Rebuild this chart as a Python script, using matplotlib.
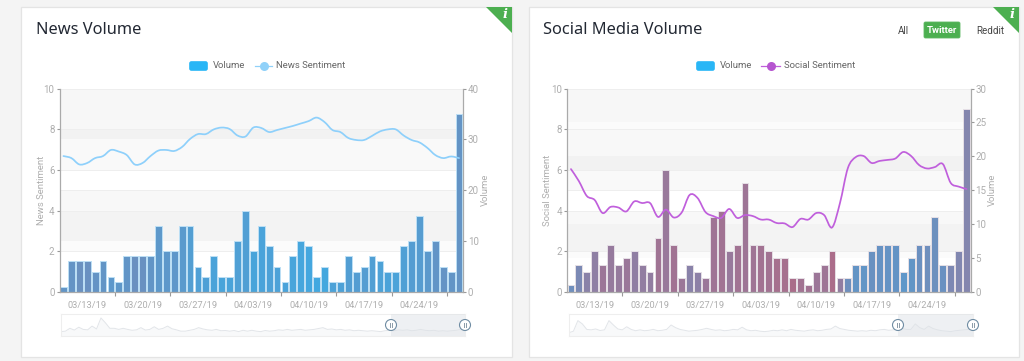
import numpy as np
import matplotlib
matplotlib.use("Agg")
import matplotlib.pyplot as plt
from matplotlib.colors import LinearSegmentedColormap, Normalize
from matplotlib.patches import Rectangle, FancyBboxPatch, Polygon, PathPatch, Circle
from matplotlib.path import Path

W, H = 1024, 361

date_labels = ["03/13/19", "03/20/19", "03/27/19", "04/03/19", "04/10/19", "04/17/19", "04/24/19"]

news_volume = [1, 6, 6, 6, 4, 6, 3, 2, 7, 7, 7, 7, 13, 8, 8, 13, 13, 5, 3, 7, 3, 3, 10, 16, 8, 13,
               9, 5, 2, 7, 10, 9, 3, 5, 2, 2, 7, 4, 5, 7, 6, 4, 4, 9, 10, 15, 8, 10, 5, 4, 35]
news_sentiment = [6.68, 6.58, 6.27, 6.34, 6.58, 6.68, 6.98, 6.9, 6.73, 6.27, 6.34, 6.68, 6.95, 6.98,
                  6.93, 7.13, 7.52, 7.76, 7.76, 7.99, 8.08, 8.01, 7.69, 7.64, 8.08, 8.06, 7.86, 7.96,
                  8.06, 8.16, 8.28, 8.40, 8.57, 8.35, 7.96, 7.86, 7.57, 7.47, 7.47, 7.67, 7.89, 7.99,
                  7.99, 7.69, 7.47, 7.35, 7.08, 6.73, 6.58, 6.66, 6.58]

social_volume = [1, 4, 3, 6, 4, 7, 4, 5, 6, 4, 3, 8, 18, 7, 2, 4, 3, 2, 11, 12, 6, 7, 16, 7, 7, 6,
                 5, 5, 2, 2, 1, 3, 4, 6, 2, 2, 4, 4, 6, 7, 7, 7, 3, 5, 7, 7, 11, 4, 4, 6, 27]
social_sentiment = [6.04, 5.45, 4.72, 4.52, 3.88, 4.18, 4.15, 3.96, 4.45, 4.37, 4.37, 3.69, 4.05, 3.66,
                    3.91, 4.77, 4.62, 3.93, 3.73, 3.64, 4.08, 3.64, 3.78, 3.73, 3.56, 3.56, 3.39, 3.37,
                    3.19, 3.59, 3.56, 3.88, 3.78, 3.17, 4.37, 6.09, 6.63, 6.68, 6.34, 6.44, 6.49, 6.56,
                    6.88, 6.68, 6.24, 6.07, 6.14, 6.29, 5.36, 5.18, 5.06]

# navigator lines, rough read
news_nav = [.2, .22, .35, .27, .4, .3, .28, .45, .32, .82, .6, .35, .35, .3, .35, .3, .26, .28, .38, .27,
            .3, .42, .3, .35, .45, .33, .28, .22, .22, .26, .3, .38, .32, .28, .26, .3, .24, .25, .22, .25,
            .2, .26, .22, .26, .22, .2, .25, .22, .24, .28, .26, .3, .26, .28, .3, .26, .28, .3, .34, .38,
            .3, .32, .28, .3, .26, .28, .24, .26, .24, .22, .24, .22, .2, .24, .26, .24, .28, .26, .28, .24,
            .26, .3, .26, .24, .26, .22, .24, .22, .24, .26, .3, .36]
social_nav = [.15, .22, .7, .55, .3, .28, .32, .25, .28, .7, .5, .32, .28, .42, .3, .24, .28, .24, .26, .3,
              .24, .26, .3, .5, .38, .3, .26, .22, .24, .26, .3, .35, .3, .26, .28, .24, .26, .3, .28, .4,
              .28, .24, .26, .22, .2, .22, .26, .24, .28, .24, .3, .26, .24, .22, .26, .28, .24, .26, .3, .32,
              .45, .34, .3, .26, .24, .22, .24, .22, .26, .24, .28, .3, .26, .28, .3, .35, .3, .3, .55, .38,
              .3, .45, .34, .28, .24, .22, .2, .24, .26, .28, .3, .35]

news_bands = [(0, 2, "#ffffff"), (2, 2.5, "#fbfbfb"), (2.5, 4, "#f3f3f3"), (4, 5, "#f8f8f8"), (5, 6, "#ffffff"),
              (6, 7.5, "#f9f9f9"), (7.5, 8, "#f2f2f2"), (8, 10, "#f7f7f7")]
social_bands = [(0, 1.67, "#ffffff"), (1.67, 2, "#fbfbfb"), (2, 3.33, "#f3f3f3"), (3.33, 4, "#f8f8f8"),
                (4, 5, "#ffffff"), (5, 6, "#f9f9f9"), (6, 6.67, "#f2f2f2"), (6.67, 8, "#f8f8f8"),
                (8, 8.33, "#fbfbfb"), (8.33, 10, "#f7f7f7")]

plt.rcParams["font.family"] = ["Roboto", "DejaVu Sans"]
GREY = "#aeaeae"
BAR_CMAP = LinearSegmentedColormap.from_list("sent", [(0, "#ae6b87"), (0.36, "#8585ad"), (0.64, "#6593c4"), (1, "#42a8e0")])
BAR_NORM = Normalize(3, 8.5)


def axes_px(fig, x0, y0, x1, y1):
    return fig.add_axes([x0 / W, 1 - y1 / H, (x1 - x0) / W, (y1 - y0) / H])


def smooth_path(xs, ys):
    # catmull-rom through the points, as bezier segments
    pts = np.column_stack([xs, ys])
    verts = [pts[0]]
    codes = [Path.MOVETO]
    for i in range(len(pts) - 1):
        p0 = pts[max(i - 1, 0)]
        p1 = pts[i]
        p2 = pts[i + 1]
        p3 = pts[min(i + 2, len(pts) - 1)]
        verts += [p1 + (p2 - p0) / 6, p2 - (p3 - p1) / 6, p2]
        codes += [Path.CURVE4] * 3
    return Path(verts, codes)


def draw_chart(fig, x0, x1, volume, sentiment, vol_max, vol_step, bands, line_color, edge):
    xs = np.arange(len(volume))
    y0, y1 = 88.5, 292

    ax_vol = axes_px(fig, x0, y0, x1, y1)
    ax = fig.add_axes(ax_vol.get_position(), sharex=ax_vol)
    ax_vol.set_zorder(1)
    ax.set_zorder(2)
    ax.patch.set_visible(False)

    for lo, hi, col in bands:
        ax_vol.axhspan(lo * vol_max / 10, hi * vol_max / 10, color=col, lw=0, zorder=0)
    for level in [2, 4, 5, 6, 8]:
        ax_vol.axhline(level * vol_max / 10, color="#eeeeee", lw=0.7, zorder=0.5)
    ax_vol.axhline(vol_max, color="#eeeeee", lw=0.7, zorder=0.5)

    colors = BAR_CMAP(BAR_NORM(np.array(sentiment)))
    ax_vol.bar(xs, volume, width=0.86, color=colors, edgecolor=edge, linewidth=0.7, zorder=2)
    ax.add_patch(PathPatch(smooth_path(xs, sentiment), fill=False, edgecolor=line_color, lw=1.25, capstyle="round"))

    ax_vol.set_xlim(-0.5, len(volume) - 0.5)
    ax_vol.set_ylim(0, vol_max)
    ax.set_ylim(0, 10)

    ax_vol.yaxis.tick_right()
    ax_vol.set_yticks(np.arange(0, vol_max + 1, vol_step))
    ax.set_yticks(np.arange(0, 11, 2))
    ax.xaxis.set_visible(False)
    ax.yaxis.tick_left()

    ax_vol.set_xticks(np.arange(6.5, 50, 7))
    ax_vol.set_xticklabels([])
    ax_vol.set_xticks(np.arange(3, 46, 7), minor=True)
    ax_vol.set_xticklabels(date_labels, minor=True)
    ax_vol.tick_params(axis="x", which="major", length=3, width=0.8, color="#999999")
    ax_vol.tick_params(axis="x", which="minor", length=0, pad=6.5, labelsize=6.7, labelcolor=GREY)
    for a in (ax, ax_vol):
        a.tick_params(axis="y", length=2.2, width=0.8, color="#999999", labelsize=7, labelcolor=GREY, pad=1.4)
        a.spines["top"].set_visible(False)
        for s in ["left", "right", "bottom"]:
            a.spines[s].set_color("#aaaaaa")
            a.spines[s].set_linewidth(0.9)
    ax.spines["bottom"].set_visible(False)
    ax.spines["right"].set_visible(False)
    ax_vol.spines["left"].set_visible(False)
    return ax_vol


def draw_navigator(fig, top, x0, x1, sel0, values):
    y0, y1 = 314, 336
    nav = axes_px(fig, x0, y0, x1, y1)
    nav.set_xlim(0, len(values) - 1)
    nav.set_ylim(0, 1)
    nav.set_xticks([])
    nav.set_yticks([])
    for s in nav.spines.values():
        s.set_color("#eeeeee")
        s.set_linewidth(0.8)
    nav_x = np.arange(len(values))
    nav.fill_between(nav_x, 0, values, color="#f8f9fa", lw=0)
    nav.plot(nav_x, values, color="#e2e5e9", lw=0.7)
    top.add_patch(Rectangle((sel0, y0), x1 - sel0, y1 - y0, color="#dfe3e8", alpha=0.5, lw=0, zorder=20))
    for cx in (sel0, x1):
        top.add_patch(Circle((cx, 325), 5.5, fc="white", ec="#6f8ca3", lw=0.8, zorder=21))
        top.plot([cx - 1.2, cx - 1.2], [322.8, 327.2], color="#8a9aa8", lw=0.7, zorder=22)
        top.plot([cx + 1.2, cx + 1.2], [322.8, 327.2], color="#8a9aa8", lw=0.7, zorder=22)


def draw_legend(top, rect_x):
    top.add_patch(FancyBboxPatch((rect_x + 1, 62), 17, 8, boxstyle="round,pad=0,rounding_size=1.5", fc="#29b6f6", ec="#29b6f6", lw=1.2))
    top.text(rect_x + 24, 65.5, "Volume", fontsize=6.8, color="#666666", va="center", ha="left")


fig = plt.figure(figsize=(W / 100, H / 100), dpi=100, facecolor="#f4f4f4")

# layers in pixel coordinates for cards and labels
bg = fig.add_axes([0, 0, 1, 1], zorder=0)
bg.set_xlim(0, W)
bg.set_ylim(H, 0)
bg.axis("off")

fg = fig.add_axes([0, 0, 1, 1], zorder=5)
fg.set_xlim(0, W)
fg.set_ylim(H, 0)
fg.axis("off")
fg.patch.set_visible(False)

for cx0, cx1 in [(21, 512), (529, 1019)]:
    bg.add_patch(Rectangle((cx0, 7), cx1 - cx0, 350, fc="white", ec="#e4e4e4", lw=0.9))
    fg.add_patch(Polygon([(cx1 - 26, 7), (cx1, 7), (cx1, 33)], closed=True, fc="#4caf50", ec="none"))
    fg.text(cx1 - 7, 14.5, "i", fontsize=9.5, color="white", family="DejaVu Serif", style="italic", weight="bold", ha="center", va="center")

fg.text(36, 29.5, "News Volume", fontsize=11.8, family="Noto Sans", color="#222833", va="center")
fg.text(543, 29.5, "Social Media Volume", fontsize=11.8, family="Noto Sans", color="#222833", va="center")

draw_chart(fig, 59.5, 463, news_volume, news_sentiment, 40, 10, news_bands, "#8ed0fb", "#bcdff5")
draw_chart(fig, 567, 970.5, social_volume, social_sentiment, 30, 5, social_bands, "#c05fdc", "#e6e0e6")

draw_navigator(fig, fg, 61, 465, 391, news_nav)
draw_navigator(fig, fg, 569, 973, 898, social_nav)

# legends
draw_legend(fg, 189)
fg.plot([255, 272], [65.5, 65.5], color="#90d1f9", lw=0.9)
fg.plot([263.5], [65.5], "o", color="#90d1f9", ms=6.5, mew=0)
fg.text(276, 65.5, "News Sentiment", fontsize=6.8, color="#666666", va="center")

draw_legend(fg, 696)
fg.plot([761, 780], [65.5, 65.5], color="#c05fdc", lw=0.9)
fg.plot([770.5], [65.5], "o", color="#b655d0", ms=6.5, mew=0)
fg.text(784, 65.5, "Social Sentiment", fontsize=6.8, color="#666666", va="center")

# axis titles
fg.text(41, 190, "News Sentiment", fontsize=6.8, color=GREY, rotation=90, ha="center", va="center")
fg.text(485, 190, "Volume", fontsize=6.8, color=GREY, rotation=90, ha="center", va="center")
fg.text(548, 190, "Social Sentiment", fontsize=6.8, color=GREY, rotation=90, ha="center", va="center")
fg.text(992.5, 190, "Volume", fontsize=6.8, color=GREY, rotation=90, ha="center", va="center")

# range buttons
fg.text(903.5, 30.5, "All", fontsize=7, color="#444444", ha="center", va="center")
fg.add_patch(FancyBboxPatch((924, 22), 36, 16, boxstyle="round,pad=0,rounding_size=1.5", fc="#4caf50", ec="#5fb863", lw=0.6))
fg.text(942, 30.5, "Twitter", fontsize=6.8, color="white", weight="bold", ha="center", va="center")
fg.text(990, 30.5, "Reddit", fontsize=7, color="#444444", ha="center", va="center")

fig.savefig("out.png", dpi=100, facecolor=fig.get_facecolor())
